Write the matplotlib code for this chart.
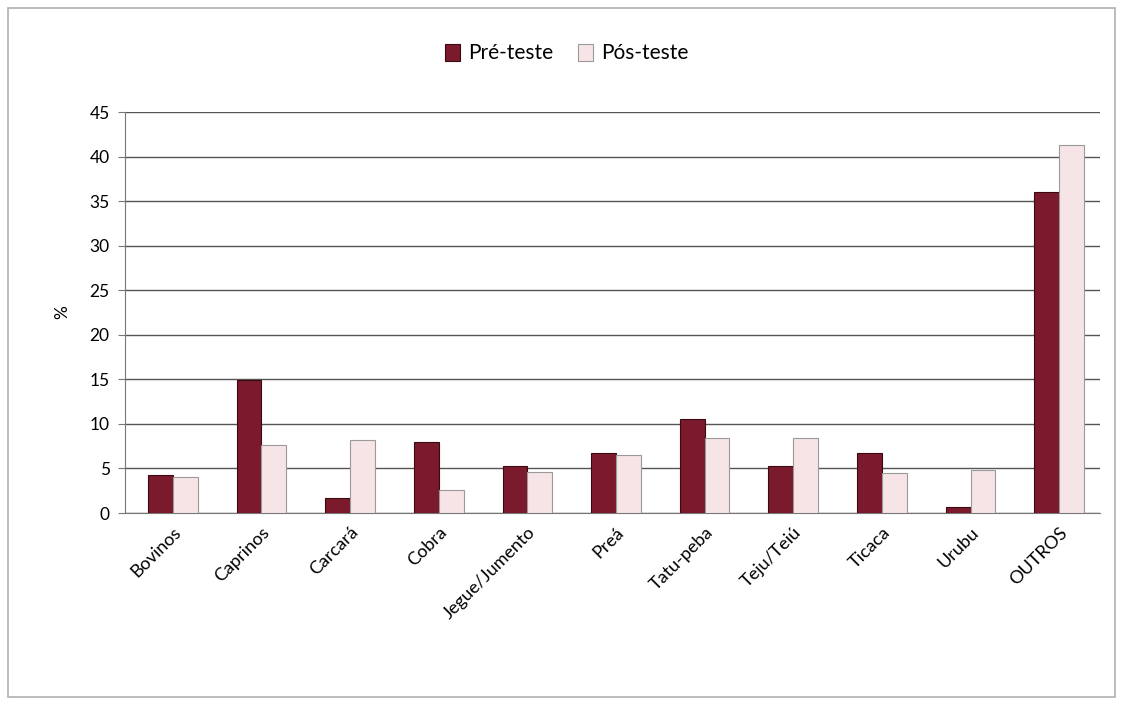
import matplotlib.pyplot as plt
import numpy as np
from matplotlib.patches import Rectangle

# categories and values (percent)
categories = ["Bovinos", "Caprinos", "Carcará", "Cobra", "Jegue/Jumento", "Preá",
              "Tatu-peba", "Teju/Teiú", "Ticaca", "Urubu", "OUTROS"]
pre_teste = [4.3, 14.9, 1.7, 8.0, 5.3, 6.7, 10.6, 5.3, 6.7, 0.7, 36.0]
pos_teste = [4.0, 7.6, 8.2, 2.6, 4.6, 6.5, 8.4, 8.4, 4.5, 4.8, 41.3]
y_ticks = [0, 5, 10, 15, 20, 25, 30, 35, 40, 45]

plt.rcParams['font.family'] = ['Lato', 'DejaVu Sans']

fig = plt.figure(figsize=(11.23, 7.05), dpi=100)
ax = fig.add_axes([0.1113, 0.2723, 0.8682, 0.5688])

# outer frame of the chart area
fig.patches.append(Rectangle((0.007, 0.012), 0.986, 0.976, transform=fig.transFigure,
                             fill=False, edgecolor='#b0b0b0', linewidth=1.2))

x = np.arange(len(categories))
w = 0.28
ax.bar(x - w / 2 + 0.04, pre_teste, w, color='#7b1a2c', edgecolor='#3a0a12', linewidth=0.8,
       label='Pré-teste', zorder=3)
ax.bar(x + w / 2 + 0.04, pos_teste, w, color='#f7e4e6', edgecolor='#9a9a9a', linewidth=0.8,
       label='Pós-teste', zorder=3)

ax.set_xlim(-0.5, len(categories) - 0.5)
ax.set_ylim(0, 45)
ax.set_yticks(y_ticks)
ax.set_yticklabels([str(t) for t in y_ticks], fontsize=12.5)
ax.yaxis.grid(True, color='#555555', linewidth=1.0, zorder=0)
ax.set_xticks(x + 0.04)
ax.set_xticklabels(categories, rotation=45, ha='right', rotation_mode='anchor', fontsize=13)
ax.tick_params(axis='x', length=0, pad=8)
ax.tick_params(axis='y', length=5, color='#777777', pad=6)
ax.set_ylabel('%', fontsize=12.5, labelpad=14)

for side in ['top', 'right']:
    ax.spines[side].set_visible(False)
ax.spines['left'].set_color('#777777')
ax.spines['bottom'].set_color('#777777')

fig.legend(loc='upper center', bbox_to_anchor=(0.505, 0.965), ncol=2, frameon=False,
           fontsize=15, handlelength=0.7, handleheight=0.9, columnspacing=1.2, handletextpad=0.4)

fig.savefig('out.png', dpi=100)
